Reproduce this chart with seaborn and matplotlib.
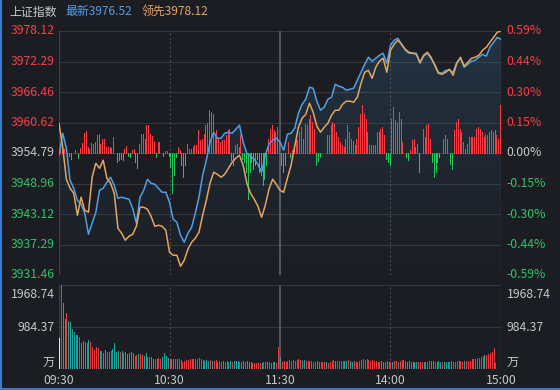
import numpy as np
import pandas as pd
import matplotlib
matplotlib.use("Agg")
import matplotlib.pyplot as plt
import seaborn as sns
from matplotlib.patches import Polygon, Rectangle
from matplotlib.colors import LinearSegmentedColormap

# ---------------- data ----------------
title = "上证指数"
latest_label = "最新3976.52"
lead_label = "领先3978.12"

# price every 2 minutes from 09:30 (minute 0) to 15:00 (minute 240)
latest = [
    3954.36, 3958.57, 3955.70, 3949.58, 3948.05, 3945.75, 3944.99, 3943.27, 3939.25, 3941.36,
    3943.46, 3947.67, 3948.05, 3949.20, 3950.15, 3948.62, 3946.14, 3946.33, 3946.14, 3945.95,
    3944.22, 3941.36, 3946.33, 3947.67, 3949.77, 3949.01, 3948.81, 3948.05, 3947.28, 3947.28,
    3945.37, 3942.12, 3941.55, 3939.06, 3937.72, 3939.44, 3940.59, 3943.27, 3946.33, 3950.54,
    3953.40, 3956.85, 3958.76, 3957.61, 3957.61, 3958.57, 3958.76, 3958.57, 3959.33, 3960.10,
    3956.85, 3954.74, 3954.17, 3953.59, 3952.64, 3951.11, 3954.36, 3956.46, 3957.23, 3957.61,
    3956.85, 3955.32, 3958.38, 3958.57, 3959.52, 3962.39, 3964.11, 3965.07, 3967.36, 3967.17,
    3964.69, 3962.97, 3963.54, 3965.07, 3965.45, 3967.94, 3967.55, 3967.36, 3966.79, 3966.98,
    3967.17, 3968.70, 3970.23, 3971.76, 3973.10, 3972.34, 3972.91, 3973.48, 3973.87, 3971.95,
    3975.40, 3976.35, 3976.73, 3975.59, 3974.44, 3973.87, 3973.87, 3973.87, 3971.95, 3973.29,
    3973.87, 3972.91, 3971.76, 3970.23, 3970.04, 3970.61, 3970.61, 3970.23, 3972.14, 3972.91,
    3971.19, 3971.76, 3972.34, 3972.53, 3973.10, 3973.67, 3973.29, 3975.01, 3975.97, 3976.93,
    3976.52]
leading = [
    3960.48, 3955.89, 3949.77, 3948.05, 3947.09, 3942.89, 3946.33, 3943.84, 3943.46, 3950.15,
    3952.83, 3951.87, 3953.40, 3949.96, 3949.01, 3947.09, 3940.40, 3939.44, 3938.11, 3938.87,
    3939.25, 3940.78, 3944.42, 3944.42, 3944.03, 3942.69, 3940.78, 3940.97, 3940.78, 3940.02,
    3935.81, 3935.24, 3935.24, 3933.13, 3934.28, 3936.38, 3937.72, 3938.49, 3939.63, 3942.89,
    3945.75, 3949.01, 3951.11, 3950.73, 3950.15, 3950.73, 3951.87, 3953.02, 3953.79, 3954.36,
    3952.45, 3949.01, 3947.09, 3945.95, 3944.61, 3942.50, 3944.80, 3947.86, 3949.77, 3948.81,
    3947.67, 3947.28, 3949.96, 3952.45, 3956.08, 3959.71, 3961.44, 3962.20, 3964.30, 3962.58,
    3959.91, 3958.76, 3959.71, 3960.48, 3962.01, 3962.97, 3962.97, 3964.11, 3964.69, 3964.69,
    3964.50, 3965.45, 3968.13, 3970.23, 3970.61, 3969.08, 3971.19, 3972.34, 3972.91, 3970.23,
    3974.44, 3975.59, 3976.35, 3975.59, 3974.63, 3974.06, 3973.87, 3973.67, 3972.14, 3973.48,
    3974.06, 3973.10, 3971.57, 3970.04, 3969.85, 3970.23, 3970.81, 3969.66, 3971.95, 3973.10,
    3971.38, 3972.14, 3972.91, 3973.10, 3973.48, 3974.44, 3975.01, 3975.97, 3976.93, 3977.88,
    3978.12]

# buying / selling power bars, one per minute (relative units)
power = [
    8, 8, 4, 0, 0, -3, -6, 0, 3, 0,
    -5, 5, 10, 20, 22, 6, 4, 10, 9, 11,
    18, 19, 9, 14, 14, 6, 6, 6, 5, 16,
    0, -9, -7, -6, -7, 4, 7, -3, -4, 3,
    4, -9, -15, 9, 19, 19, 14, 28, 28, 19,
    17, 12, -4, 11, 11, 0, -3, 2, 2, -3,
    -14, -40, -22, -4, 6, 3, -12, -24, -12, 9,
    4, 4, 6, 8, 8, 23, 13, 14, 19, 28,
    30, 43, 41, 39, 19, 23, 14, 11, 13, 13,
    18, 23, 24, -7, -12, 8, 9, 6, 18, -6,
    -9, -19, -46, -19, -9, -16, -12, -6, -19, -22,
    -32, -26, -12, 14, 24, 28, 23, 21, 26, 13,
    -12, -19, -12, 0, 11, -4, 3, 4, 14, 13,
    21, 26, 14, 29, 28, 34, 38, 31, 24, -12,
    -8, -4, 0, 0, 0, 18, 18, 28, 31, 29,
    21, 16, 11, 8, 6, 14, 28, 21, 14, 12,
    8, 14, 26, 39, 48, 39, 34, 21, 8, 8,
    8, 8, 21, 21, 24, 26, 18, -6, -9, -12,
    34, 46, 33, 31, 41, 34, 11, 0, -4, -7,
    3, 13, 14, 6, 9, -19, 0, 24, 16, 28,
    29, 14, -9, -24, -19, -9, -4, 0, 14, 18,
    14, 0, -11, -16, 23, 31, 34, 24, 21, 11,
    4, 9, 16, 16, 16, 16, 24, 26, 24, 21,
    16, 19, 18, 21, 23, 21, 23, 18, 14, 48]

# volume (万), morning 09:30-11:30 and afternoon 13:01-15:00
vol_am = [
    724, 1968.74, 1556, 1167, 1307, 1136, 1113, 934, 879, 801,
    801, 747, 622, 669, 646, 622, 685, 646, 529, 451,
    513, 490, 436, 436, 389, 451, 412, 397, 428, 482,
    622, 412, 436, 412, 436, 373, 412, 358, 389, 412,
    373, 311, 335, 358, 358, 335, 311, 373, 280, 296,
    280, 233, 249, 249, 257, 249, 280, 373, 311, 265,
    233, 249, 233, 249, 249, 233, 218, 171, 195, 218,
    218, 233, 241, 249, 241, 249, 257, 233, 218, 202,
    218, 195, 218, 202, 195, 218, 179, 202, 179, 202,
    179, 195, 179, 187, 179, 202, 195, 187, 179, 179,
    195, 179, 187, 171, 171, 140, 156, 156, 156, 156,
    156, 163, 171, 163, 171, 156, 163, 171, 156, 529,
    296]
dir_am = ("wrggrggggg" "grgggggrrr" "rrgrggrrrg" "gggrgrgggg" "grrgrrgggr"
          "ggrgrrgggg" "rggrgrrrrr" "rrrrrrrrgg" "ggrgrrgrrg" "rrggrgggrg"
          "grgggrrrrr" "grrgrgrgrr" "g")
vol_pm = [
    179, 202, 179, 195, 218, 202, 218, 202, 218, 241,
    218, 202, 218, 202, 195, 202, 195, 179, 163, 195,
    179, 179, 179, 163, 179, 156, 179, 202, 218, 202,
    195, 202, 195, 187, 202, 187, 218, 202, 179, 187,
    179, 179, 195, 218, 233, 218, 233, 218, 202, 218,
    195, 187, 179, 179, 195, 171, 179, 195, 179, 171,
    179, 187, 195, 179, 202, 218, 218, 195, 179, 187,
    179, 179, 171, 179, 171, 163, 171, 179, 171, 179,
    187, 187, 195, 179, 179, 187, 179, 171, 179, 171,
    179, 171, 187, 179, 179, 187, 187, 202,
    179, 187, 195, 202, 187,
    233, 249, 241, 257, 272, 296, 311, 335, 335, 358, 389, 412, 490, 140, 0, 0, 724]
dir_pm = ("rrrrrrrrrr" "rggrrgrrrg" "grrrgrrrrg" "rrrrggrggr" "rrrrrrrrrr"
          "rrrrggrggr" "grrgrrrrgg" "ggggrrrgrr" "rggrgggrgg" "grgrrrgr"
          "rgrrr" "rrrrrrrgrrrrrrrrg")

price_ticks = ["3978.12", "3972.29", "3966.46", "3960.62", "3954.79",
               "3948.96", "3943.12", "3937.29", "3931.46"]
pct_ticks = ["0.59%", "0.44%", "0.30%", "0.15%", "0.00%",
             "-0.15%", "-0.30%", "-0.44%", "-0.59%"]
vol_ticks = ["1968.74", "984.37", "万"]
time_labels = ["09:30", "10:30", "11:30", "14:00", "15:00"]
time_pos = [0, 60, 120, 180, 240]

# ---------------- style ----------------
BG = "#1c1d22"
BLUE = "#4d9fe6"
ORANGE = "#e3a55d"
RED = "#f0414a"
GREEN = "#2ec26a"
BRED = "#ff3a42"
BGREEN = "#22c55e"
GRAY = "#c6c7cb"
GRID = "#34363c"
VRED = "#e8393f"
VTEAL = "#1ba39c"

sns.set_theme(style="dark")
plt.rcParams["font.family"] = ["Noto Sans CJK SC", "DejaVu Sans"]
plt.rcParams["axes.unicode_minus"] = False

W, H = 560, 390
fig = plt.figure(figsize=(W / 100, H / 100), dpi=100, facecolor=BG)
L, R = 59, 501
ax = fig.add_axes([L / W, (H - 275) / H, (R - L) / W, 244 / H])
axl = ax.twinx()
axv = fig.add_axes([L / W, (H - 369.3) / H, (R - L) / W, 84.3 / H])

for a in (ax, axl, axv):
    a.set_xlim(0, 240)
    for s in a.spines.values():
        s.set_visible(False)
    a.set_xticks([])
    a.set_yticks([])
    a.grid(False)
ax.set_facecolor(BG)
axl.set_facecolor("none")
axv.set_facecolor(BG)

ymin, ymax = 3931.46, 3978.12
axl.set_ylim(ymin, ymax)
axl.set_xlim(0, 240)

# ---- grid (main) ----
ax.set_ylim(-122, 122)
for yv in np.linspace(-122, 122, 9):
    ax.axhline(yv, color=GRID, lw=0.8, zorder=0)
for xv in (60, 180):
    ax.axvline(xv, color="#4a4c53", lw=0.8, ls=(0, (2, 2)), zorder=0)
ax.axvline(120, color="#55575e", lw=1.4, zorder=0)
ax.axvline(0, color="#3c3e45", lw=1.0, zorder=0)
ax.axvline(240, color="#3c3e45", lw=1.0, zorder=0)

# ---- gradient fill under the latest line (behind the bars) ----
t = np.arange(0, 241, 2)
verts = [(0, ymin)] + list(zip(t, latest)) + [(240, ymin)]
poly = Polygon(verts, closed=True, facecolor="none", edgecolor="none",
               transform=axl.transData)
cmap = LinearSegmentedColormap.from_list(
    "fill", [(0.30, 0.62, 0.90, 0.0), (0.30, 0.62, 0.90, 0.17)])
grad = np.linspace(1, 0, 256).reshape(-1, 1)
im = ax.imshow(grad, extent=[0, 240, -122, 122], aspect="auto", cmap=cmap,
               origin="upper", zorder=1, vmin=0, vmax=1)
im.set_clip_path(poly)
ax.set_xlim(0, 240)
ax.set_ylim(-122, 122)

# ---- power bars (1 px wide) ----
pw = np.array(power, dtype=float)
pos_p = np.arange(len(pw)) + 0.5
ax.vlines(pos_p, 0, pw, colors=[BRED if v > 0 else BGREEN for v in pw],
          linewidth=0.7, zorder=2, antialiased=False)

# ---- price lines ----
df = pd.DataFrame({
    "minute": np.concatenate([t, t]),
    "price": latest + leading,
    "series": ["最新"] * len(latest) + ["领先"] * len(leading),
})
sns.lineplot(data=df, x="minute", y="price", hue="series",
             hue_order=["最新", "领先"], palette={"最新": BLUE, "领先": ORANGE},
             linewidth=1.1, legend=False, estimator=None, sort=False, ax=axl)
axl.set_xlim(0, 240)
axl.set_ylim(ymin, ymax)
axl.set_xlabel("")
axl.set_ylabel("")
axl.set_xticks([])
axl.set_yticks([])

# ---- axis labels main ----
pvals = np.linspace(ymax, ymin, 9)
for i, (pl, pc) in enumerate(zip(price_ticks, pct_ticks)):
    col = RED if i < 4 else (GRAY if i == 4 else GREEN)
    axl.text(-0.009, pvals[i], pl, transform=axl.get_yaxis_transform(),
             ha="right", va="center", color=col, fontsize=8.8)
    axl.text(1.013, pvals[i], pc, transform=axl.get_yaxis_transform(),
             ha="left", va="center", color=col, fontsize=8.8)

# ---- volume panel ----
vmax = 1968.74
axv.set_ylim(0, vmax)
for yv in (0, vmax / 2, vmax):
    axv.axhline(yv, color=GRID, lw=0.8, zorder=0)
for xv in (60, 180):
    axv.axvline(xv, color="#4a4c53", lw=0.8, ls=(0, (2, 2)), zorder=0)
axv.axvline(120, color="#55575e", lw=1.4, zorder=0)
axv.axvline(0, color="#3c3e45", lw=1.0, zorder=0)
axv.axvline(240, color="#3c3e45", lw=1.0, zorder=0)

cmapd = {"r": VRED, "g": VTEAL, "w": "#e6e6e6"}
vols = np.array(vol_am + vol_pm, dtype=float)
dirs = list(dir_am + dir_pm)
n = min(len(vols), len(dirs))
pos_v = np.arange(n)
axv.vlines(pos_v, 0, vols[:n], colors=[cmapd[d] for d in dirs[:n]],
           linewidth=0.7, zorder=2, antialiased=False)
axv.set_xlim(0, 240)

vfrac = [0.885, 0.49, 0.087]
for lab, yf in zip(vol_ticks, vfrac):
    axv.text(-0.009, yf, lab, transform=axv.transAxes, ha="right", va="center",
             color=GRAY, fontsize=8.8)
    axv.text(1.013, yf, lab, transform=axv.transAxes, ha="left", va="center",
             color=GRAY, fontsize=8.8)
for lab, xp in zip(time_labels, time_pos):
    axv.text(xp, -0.127, lab, transform=axv.get_xaxis_transform(), ha="center",
             va="center", color=GRAY, fontsize=8.8)

# ---- header ----
fig.text(9 / W, 1 - 12 / H, title, color=GRAY, fontsize=8.6, ha="left", va="center")
fig.text(65 / W, 1 - 12 / H, latest_label, color=BLUE, fontsize=8.6, ha="left", va="center")
fig.text(141.5 / W, 1 - 12 / H, lead_label, color=ORANGE, fontsize=8.6, ha="left", va="center")

# ---- frame accents ----
fig.patches.append(Rectangle((0, 0), 1.6 / W, 1, transform=fig.transFigure,
                             facecolor="#2f80d2", edgecolor="none"))
fig.patches.append(Rectangle((0, 0), 1, 2 / H, transform=fig.transFigure,
                             facecolor="#2f80d2", edgecolor="none"))

fig.savefig("out.png", dpi=100, facecolor=BG)
